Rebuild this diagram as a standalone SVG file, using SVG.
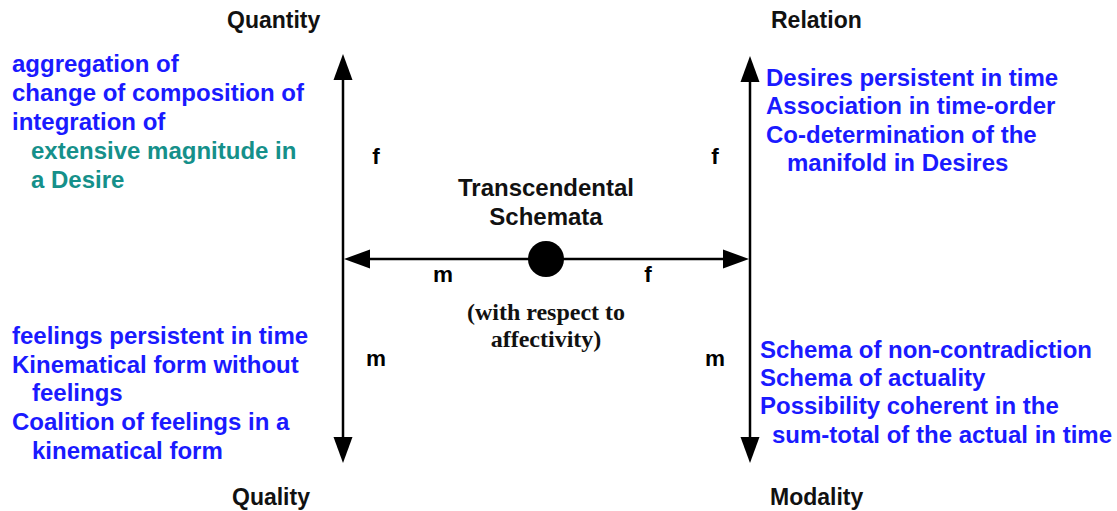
<svg xmlns="http://www.w3.org/2000/svg" width="1117" height="511" viewBox="0 0 1117 511">
  <style>
    text { font-family: "Liberation Sans", Arial, sans-serif; font-weight: bold; font-size: 24px; }
    .cat { fill: #111; font-size: 23px; }
    .blue { fill: #1a1aff; }
    .teal { fill: #15908a; }
    .lbl { fill: #000; font-size: 22.5px; }
    .title { fill: #111; }
    .serif { font-family: "Liberation Serif", "Times New Roman", serif; font-size: 24px; fill: #111; }
    .axis { stroke: #000; stroke-width: 2.5; fill: none; }
    .head { fill: #000; }
  </style>

  <!-- axes with arrowheads -->
  <g id="connectors">
    <line class="axis" x1="343" y1="76" x2="343" y2="440"/>
    <polygon class="head" points="343,54 333.5,80 352.5,80"/>
    <polygon class="head" points="343,463 333.5,437 352.5,437"/>

    <line class="axis" x1="750" y1="78" x2="750" y2="440"/>
    <polygon class="head" points="750,56 740.5,82 759.5,82"/>
    <polygon class="head" points="750,463 740.5,437 759.5,437"/>

    <line class="axis" x1="366" y1="259" x2="728" y2="259"/>
    <polygon class="head" points="344,259 370,249.5 370,268.5"/>
    <polygon class="head" points="749,259 723,249.5 723,268.5"/>
  </g>

  <!-- central schema node -->
  <g id="schemata">
    <circle cx="546" cy="259" r="18" fill="#000"/>
    <text class="title" x="546" y="196" text-anchor="middle">Transcendental</text>
    <text class="title" x="546" y="225" text-anchor="middle">Schemata</text>
    <text class="serif" x="546" y="320" text-anchor="middle">(with respect to</text>
    <text class="serif" x="546" y="347" text-anchor="middle">affectivity)</text>
  </g>

  <!-- f / m markers -->
  <g id="markers">
    <text class="lbl" x="376" y="164" text-anchor="middle">f</text>
    <text class="lbl" x="715" y="164" text-anchor="middle">f</text>
    <text class="lbl" x="443" y="282" text-anchor="middle">m</text>
    <text class="lbl" x="648" y="282" text-anchor="middle">f</text>
    <text class="lbl" x="376" y="366" text-anchor="middle">m</text>
    <text class="lbl" x="715" y="366" text-anchor="middle">m</text>
  </g>

  <!-- Quantity -->
  <g id="quantity">
    <text class="cat" x="227" y="28">Quantity</text>
    <text class="blue" x="12" y="72">aggregation of</text>
    <text class="blue" x="12" y="101">change of composition of</text>
    <text class="blue" x="12" y="130">integration of</text>
    <text class="teal" x="31" y="159">extensive magnitude in</text>
    <text class="teal" x="31" y="188">a Desire</text>
  </g>

  <!-- Relation -->
  <g id="relation">
    <text class="cat" x="771" y="28">Relation</text>
    <text class="blue" x="766" y="86">Desires persistent in time</text>
    <text class="blue" x="766" y="114">Association in time-order</text>
    <text class="blue" x="766" y="143">Co-determination of the</text>
    <text class="blue" x="787" y="171">manifold in Desires</text>
  </g>

  <!-- Quality -->
  <g id="quality">
    <text class="cat" x="232" y="505">Quality</text>
    <text class="blue" x="12" y="344">feelings persistent in time</text>
    <text class="blue" x="12" y="373">Kinematical form without</text>
    <text class="blue" x="32" y="401">feelings</text>
    <text class="blue" x="12" y="430">Coalition of feelings in a</text>
    <text class="blue" x="32" y="459">kinematical form</text>
  </g>

  <!-- Modality -->
  <g id="modality">
    <text class="cat" x="770" y="505">Modality</text>
    <text class="blue" x="760" y="358">Schema of non-contradiction</text>
    <text class="blue" x="760" y="386">Schema of actuality</text>
    <text class="blue" x="760" y="414">Possibility coherent in the</text>
    <text class="blue" x="772" y="443">sum-total of the actual in time</text>
  </g>
</svg>
